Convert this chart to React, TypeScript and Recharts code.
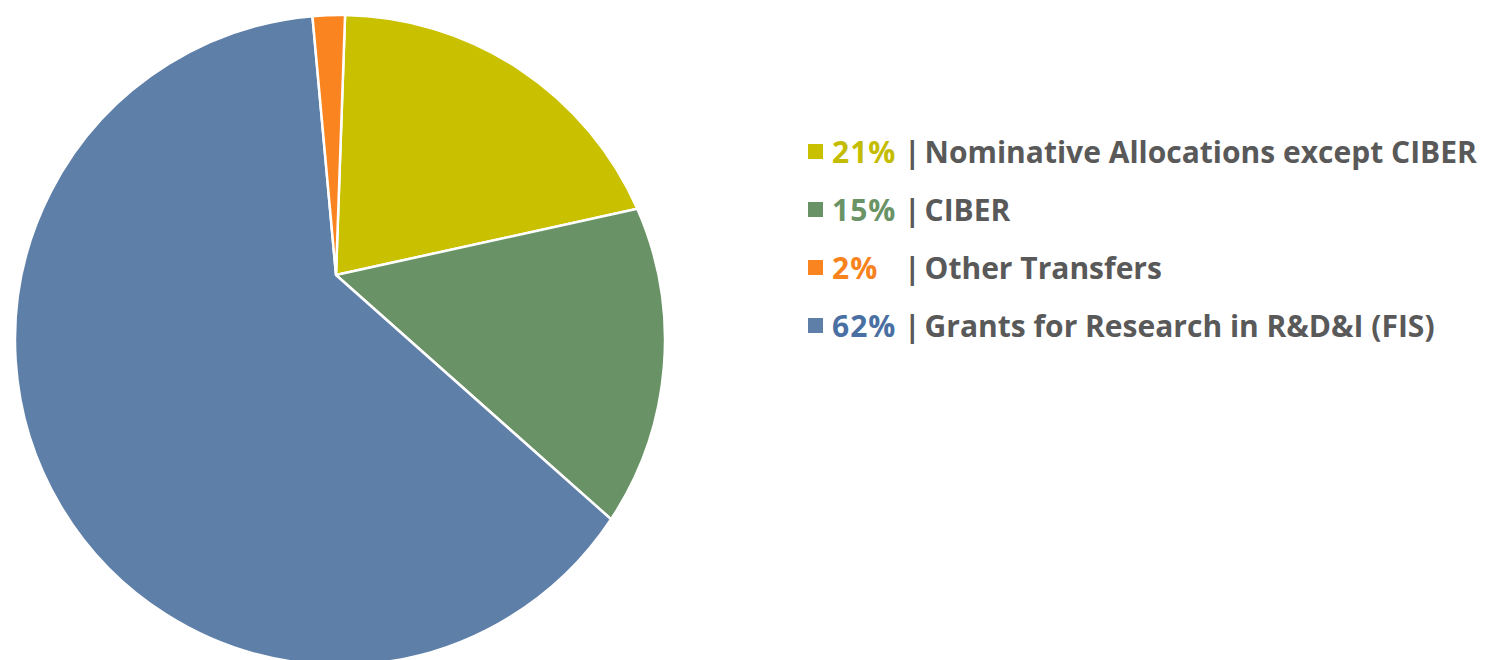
import React from "react";
import { PieChart, Pie, Legend } from "recharts";

const categories = [
  "Nominative Allocations except CIBER",
  "CIBER",
  "Other Transfers",
  "Grants for Research in R&D&I (FIS)",
];
const shares = [21, 15, 2, 62];
const sliceColors = ["#C9C100", "#699366", "#F98420", "#5E7FA8"];
const shareColors = ["#C4BC00", "#6A9366", "#F7821E", "#4A6FA2"];
// slices go clockwise from 12 o'clock in this order
const pieOrder = [0, 1, 3, 2];

const pieData = pieOrder.map((i) => ({
  name: categories[i],
  value: shares[i],
  fill: sliceColors[i],
}));

// the outer rim is a circle whose centre sits below the slice vertex
const RIM_DX = 4;
const RIM_DY = 65;
const RIM_R = 325;
const RAD = Math.PI / 180;

function rimPoint(cx: number, cy: number, angle: number) {
  const dx = Math.cos(angle * RAD);
  const dy = -Math.sin(angle * RAD);
  const wx = -RIM_DX;
  const wy = -RIM_DY;
  const b = wx * dx + wy * dy;
  const t = -b + Math.sqrt(b * b - (wx * wx + wy * wy) + RIM_R * RIM_R);
  return [cx + t * dx, cy + t * dy];
}

function OffsetSlice(props: any) {
  const { cx, cy, startAngle, endAngle, fill } = props;
  const [x1, y1] = rimPoint(cx, cy, startAngle);
  const [x2, y2] = rimPoint(cx, cy, endAngle);
  const ox = cx + RIM_DX;
  const oy = cy + RIM_DY;
  const a1 = Math.atan2(y1 - oy, x1 - ox);
  const a2 = Math.atan2(y2 - oy, x2 - ox);
  let span = a2 - a1;
  if (span < 0) span += 2 * Math.PI;
  const large = span > Math.PI ? 1 : 0;
  const d = `M${cx},${cy} L${x1},${y1} A${RIM_R},${RIM_R} 0 ${large} 1 ${x2},${y2} Z`;
  return <path d={d} fill={fill} stroke="#fff" strokeWidth={2.5} strokeLinejoin="round" />;
}

function LegendRows() {
  return (
    <div style={{ fontFamily: "'Open Sans', sans-serif", fontWeight: 700, fontSize: 30, color: "#595959" }}>
      {categories.map((c, i) => (
        <div key={c} style={{ display: "flex", alignItems: "center", height: 58, whiteSpace: "nowrap" }}>
          <span style={{ width: 15, height: 15, background: sliceColors[i], marginRight: 9, flexShrink: 0 }} />
          <span style={{ width: 72, color: shareColors[i], letterSpacing: 1 }}>{shares[i]}%</span>
          <span style={{ marginRight: 4 }}>|</span>
          <span>{c}</span>
        </div>
      ))}
    </div>
  );
}

export default function App() {
  return (
    <div style={{ position: "absolute", left: 0, top: 0, background: "#fff" }}>
      <PieChart width={1486} height={660} margin={{ top: 0, right: 0, bottom: 0, left: 0 }}>
        <Pie
          data={pieData}
          dataKey="value"
          nameKey="name"
          cx={336}
          cy={275}
          outerRadius={300}
          startAngle={88}
          endAngle={-272}
          shape={OffsetSlice}
          isAnimationActive={false}
        />
        <Legend
          content={() => <LegendRows />}
          wrapperStyle={{ position: "absolute", left: 808, top: 122, width: 678 }}
        />
      </PieChart>
    </div>
  );
}
